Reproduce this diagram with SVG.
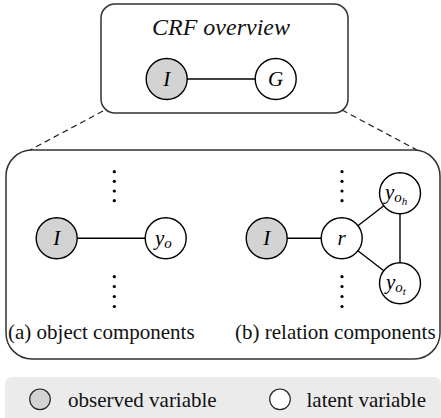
<svg xmlns="http://www.w3.org/2000/svg" width="441" height="418" viewBox="0 0 441 418">
<style>
.box{fill:#fff;stroke:#333;stroke-width:1.5}
.dash{stroke:#222;stroke-width:1.2;stroke-dasharray:6,4;fill:none}
.edge{stroke:#000;stroke-width:1.4}
.obs{fill:#d3d3d3;stroke:#000;stroke-width:1.4}
.lat{fill:#fff;stroke:#000;stroke-width:1.4}
.lbl{font-family:"Liberation Serif","Times New Roman",serif;font-style:italic;font-size:21px;fill:#000;text-anchor:middle}
.sub{font-family:"Liberation Serif","Times New Roman",serif;font-style:italic;fill:#000}
.txt{font-family:"Liberation Serif","Times New Roman",serif;font-size:21px;fill:#111}
.dot{fill:#000}
</style>
<rect x="0" y="0" width="441" height="418" fill="#fff"/>
<g id="connectors-dashed">
<line class="dash" x1="103" y1="111" x2="30" y2="150"/>
<line class="dash" x1="342" y1="110" x2="417" y2="150"/>
</g>
<g id="overview-box">
<rect class="box" x="101" y="4" width="247" height="109" rx="14"/>
<text x="221" y="35" font-family="Liberation Serif,Times New Roman,serif" font-style="italic" font-size="24" text-anchor="middle" fill="#111">CRF overview</text>
</g>
<g id="components-box">
<rect class="box" x="6" y="150" width="434" height="209" rx="26"/>
<text class="txt" x="8" y="339" font-size="21.6">(a) object components</text>
<text class="txt" x="235" y="339">(b) relation components</text>
</g>
<g id="connectors">
<line class="edge" x1="166.7" y1="79" x2="275.7" y2="79"/>
<line class="edge" x1="56.7" y1="238.3" x2="165.7" y2="238.3"/>
<line class="edge" x1="266.7" y1="238.3" x2="341.7" y2="238.3"/>
<line class="edge" x1="341.7" y1="238.3" x2="400" y2="193.3"/>
<line class="edge" x1="341.7" y1="238.3" x2="400" y2="283.3"/>
<line class="edge" x1="400" y1="193.3" x2="400" y2="283.3"/>
</g>
<g id="node-I-top"><circle class="obs" cx="166.7" cy="79" r="20.5"/><text class="lbl" x="166.7" y="86">I</text></g>
<g id="node-G"><circle class="lat" cx="275.7" cy="79" r="20.5"/><text class="lbl" x="275.7" y="86">G</text></g>
<g id="node-I-a"><circle class="obs" cx="56.7" cy="238.3" r="20.5"/><text class="lbl" x="56.7" y="245.3">I</text></g>
<g id="node-yo"><circle class="lat" cx="165.7" cy="238.3" r="20.5"/><text class="sub" x="155" y="245.3" font-size="21">y<tspan font-size="15" dy="3">o</tspan></text></g>
<g id="node-I-b"><circle class="obs" cx="266.7" cy="238.3" r="20.5"/><text class="lbl" x="266.7" y="245.3">I</text></g>
<g id="node-r"><circle class="lat" cx="341.7" cy="238.3" r="20.5"/><text class="lbl" x="341.7" y="245.3">r</text></g>
<g id="node-yoh"><circle class="lat" cx="400" cy="193.3" r="20.5"/><text class="sub" x="385" y="199" font-size="21">y<tspan font-size="15" dy="3">o</tspan><tspan font-size="11" dy="3">h</tspan></text></g>
<g id="node-yot"><circle class="lat" cx="400" cy="283.3" r="20.5"/><text class="sub" x="386" y="289" font-size="21">y<tspan font-size="15" dy="3">o</tspan><tspan font-size="11" dy="3">t</tspan></text></g>
<g id="dots-a">
<circle class="dot" cx="114.3" cy="171.7" r="1.6"/><circle class="dot" cx="114.3" cy="181.3" r="1.6"/><circle class="dot" cx="114.3" cy="191" r="1.6"/><circle class="dot" cx="114.3" cy="200.7" r="1.6"/>
<circle class="dot" cx="114.3" cy="276.7" r="1.6"/><circle class="dot" cx="114.3" cy="286.5" r="1.6"/><circle class="dot" cx="114.3" cy="296.5" r="1.6"/><circle class="dot" cx="114.3" cy="306.5" r="1.6"/>
</g>
<g id="dots-b">
<circle class="dot" cx="342" cy="171.7" r="1.6"/><circle class="dot" cx="342" cy="181.3" r="1.6"/><circle class="dot" cx="342" cy="191" r="1.6"/><circle class="dot" cx="342" cy="200.7" r="1.6"/>
<circle class="dot" cx="342" cy="276.7" r="1.6"/><circle class="dot" cx="342" cy="286.5" r="1.6"/><circle class="dot" cx="342" cy="296.5" r="1.6"/><circle class="dot" cx="342" cy="306.5" r="1.6"/>
</g>
<g id="legend">
<rect x="5" y="377" width="436" height="48" rx="7" fill="#ebebeb"/>
<circle cx="40" cy="399.3" r="10.3" fill="#d3d3d3" stroke="#222" stroke-width="1.2"/>
<text class="txt" x="68" y="406.5" font-size="20.5">observed variable</text>
<circle cx="280" cy="399.3" r="10.3" fill="#fff" stroke="#222" stroke-width="1.2"/>
<text class="txt" x="306.5" y="406.5" font-size="20.5">latent variable</text>
</g>
</svg>
